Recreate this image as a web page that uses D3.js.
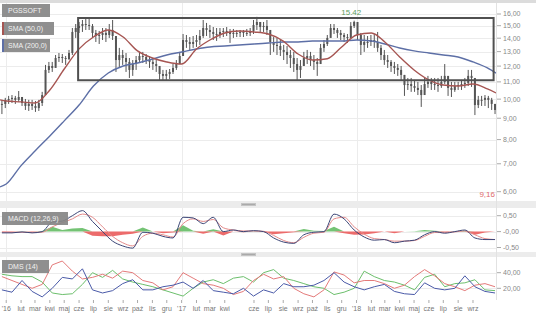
<!DOCTYPE html>
<html>
<head>
<meta charset="utf-8">
<script src="https://cdn.jsdelivr.net/npm/d3@7"></script>
<style>
body { margin: 0; background: #fff; }
svg { display: block; font-family: "Liberation Sans", Arial, sans-serif; }
</style>
</head>
<body>
<svg id="chart" width="536" height="317"></svg>
<script>
// weekly bars, first week centred on this date
const weekStart = "2015-12-23";
const weekHigh = [9.96,10.07,10.18,10.23,10.18,10.46,10.12,10.01,9.96,9.96,
  9.90,9.96,10.41,12.08,12.28,12.28,12.76,12.90,12.83,12.69,
  13.12,14.81,15.14,15.31,15.48,15.57,15.65,15.14,14.65,14.57,
  14.81,14.81,15.14,15.48,13.86,13.27,13.12,12.90,12.55,12.41,
  12.69,12.98,12.98,12.83,12.69,12.55,12.41,11.88,11.75,11.75,
  11.81,12.14,12.41,12.98,14.33,14.25,14.09,14.17,14.25,14.65,
  15.48,15.23,15.06,14.89,14.81,14.81,14.81,14.89,14.73,14.73,
  14.65,14.65,14.65,14.73,14.81,15.48,15.75,15.31,15.31,15.48,
  14.49,14.09,14.02,13.86,13.49,13.41,13.12,12.98,12.55,12.41,
  12.98,13.12,12.98,12.76,12.55,13.56,13.86,14.25,15.14,15.14,
  14.81,14.65,14.41,14.33,15.30,15.42,15.14,14.41,14.25,14.17,
  14.25,14.33,14.49,13.49,13.12,12.76,12.41,12.28,12.14,12.01,
  11.43,11.24,11.24,11.12,11.00,10.81,11.24,11.37,11.24,11.24,
  11.24,11.37,12.14,11.12,11.00,11.00,11.00,11.12,11.24,11.75,
  11.75,11.00,10.18,10.18,10.23,10.18,10.07,9.74];
const weekLow = [9.21,9.52,9.74,9.79,9.74,9.85,9.63,9.42,9.37,9.42,
  9.32,9.37,9.63,10.23,11.55,11.62,12.01,12.28,12.21,12.08,
  12.41,12.76,14.02,14.41,14.49,14.65,14.65,14.02,13.71,13.56,
  13.86,13.71,14.02,13.86,11.62,11.88,12.08,11.62,11.24,11.37,
  11.75,12.28,12.21,12.14,11.88,11.75,11.62,11.12,11.12,11.12,
  11.18,11.49,11.75,12.14,13.12,13.27,13.12,13.27,13.34,13.49,
  14.02,14.17,14.02,13.86,13.79,14.02,14.09,14.17,13.64,14.02,
  14.09,14.09,14.09,14.17,14.17,14.33,14.65,14.49,14.49,14.25,
  12.76,12.98,12.76,12.69,12.41,12.14,11.88,11.62,11.12,11.24,
  12.01,12.14,12.01,11.75,11.37,12.69,12.98,13.41,14.25,14.33,
  14.02,13.86,13.71,13.64,14.02,14.81,13.86,12.76,12.98,13.27,
  13.41,13.27,12.98,12.41,12.08,11.88,11.62,11.49,11.37,11.12,
  10.18,10.52,10.41,10.41,10.23,9.58,10.41,10.64,10.52,10.52,
  10.41,10.64,10.87,10.18,10.12,10.41,10.52,10.52,10.64,10.75,
  10.70,9.16,9.52,9.63,9.63,9.52,9.42,9.21];
const weekClose = [9.74,9.96,10.01,10.07,9.96,10.12,9.79,9.63,9.74,9.63,
  9.52,9.79,10.23,11.75,12.01,11.88,12.55,12.62,12.55,12.48,
  12.90,14.49,14.81,14.98,15.14,15.06,14.98,14.41,14.17,14.25,
  14.41,14.25,14.65,14.17,12.41,12.76,12.55,12.28,11.75,12.14,
  12.41,12.69,12.62,12.41,12.28,12.14,12.01,11.49,11.37,11.49,
  11.62,11.88,12.14,12.69,13.86,13.71,13.56,13.71,13.86,14.17,
  14.81,14.65,14.49,14.33,14.25,14.49,14.57,14.49,14.33,14.41,
  14.41,14.49,14.41,14.41,14.57,15.06,15.31,14.89,14.98,14.65,
  13.71,13.49,13.41,13.12,12.98,12.76,12.55,12.14,11.75,12.01,
  12.55,12.69,12.41,12.28,12.14,13.27,13.56,14.02,14.81,14.65,
  14.41,14.25,14.09,14.02,14.98,15.31,14.25,13.49,13.71,13.71,
  13.86,13.71,13.27,12.76,12.41,12.28,12.01,11.88,11.75,11.43,
  10.81,10.87,10.75,10.64,10.52,10.23,10.87,11.00,10.87,10.81,
  10.75,11.00,11.37,10.64,10.52,10.75,10.81,10.87,10.94,11.37,
  11.24,9.68,9.96,9.96,10.07,9.96,9.74,9.42];

// moving averages, read at month starts
const smaDates = ["2015-12-19","2016-01-01","2016-02-01","2016-03-01","2016-04-01","2016-05-01",
  "2016-06-01","2016-07-01","2016-08-01","2016-09-01","2016-10-01","2016-11-01","2016-12-01",
  "2017-01-01","2017-02-01","2017-03-01","2017-04-01","2017-05-01","2017-06-01","2017-07-01",
  "2017-08-01","2017-09-01","2017-10-01","2017-11-01","2017-12-01","2018-01-01","2018-02-01",
  "2018-03-01","2018-04-01","2018-05-01","2018-06-01","2018-07-01","2018-08-01","2018-09-01",
  "2018-10-01","2018-10-19"];
const sma50 = [9.96,9.90,9.85,9.79,10.52,11.81,13.20,14.09,14.65,14.09,13.05,12.55,12.28,
  12.14,13.19,13.86,14.41,14.57,14.49,14.33,13.78,12.83,12.41,12.50,13.34,14.25,14.41,
  13.71,12.62,11.75,11.12,10.81,10.75,10.87,10.58,10.35];
const sma200 = [6.16,6.26,6.93,7.51,8.16,8.87,9.68,10.75,11.55,12.01,12.21,12.48,12.76,
  12.97,13.19,13.34,13.41,13.48,13.56,13.63,13.71,13.71,13.78,13.78,13.78,13.86,13.78,
  13.56,13.26,13.05,12.90,12.76,12.62,12.28,11.88,11.55];

// indicators, one value every 3rd week
const indStep = 3;
const macdLine = [-0.04,-0.04,-0.01,-0.04,0.00,0.30,0.33,0.50,0.66,0.32,
  0.00,-0.30,-0.45,-0.52,-0.02,-0.05,-0.15,-0.20,0.45,0.43,
  0.25,0.45,0.00,0.05,0.00,0.03,0.00,-0.20,-0.33,-0.37,
  -0.10,-0.02,0.00,0.55,0.40,0.05,-0.17,-0.27,-0.25,-0.35,
  -0.30,-0.27,-0.10,0.00,-0.05,0.00,0.05,-0.20,-0.25,-0.25];
const macdSignal = [-0.02,-0.03,-0.02,-0.03,-0.02,0.15,0.28,0.40,0.55,0.45,
  0.15,-0.15,-0.35,-0.45,-0.15,-0.05,-0.10,-0.17,0.25,0.40,
  0.32,0.38,0.12,0.05,0.02,0.02,0.01,-0.12,-0.28,-0.35,
  -0.18,-0.05,-0.02,0.40,0.45,0.15,-0.08,-0.22,-0.25,-0.30,
  -0.30,-0.28,-0.15,-0.03,-0.03,-0.01,0.02,-0.10,-0.22,-0.25];
const dmsRed = [35,30,25,20,25,50,55,42,32,34,38,33,42,40,30,27,18,22,40,33,
  26,24,20,12,16,30,38,32,35,20,13,9,18,41,37,27,30,30,26,20,
  24,35,44,36,26,22,17,24,26,22];
const dmsGreen = [38,36,35,35,28,14,12,13,25,40,34,43,32,28,25,22,18,14,10,20,
  28,31,26,33,35,28,40,44,33,30,26,22,20,12,15,20,42,35,30,28,
  24,18,34,38,22,26,27,31,18,17];
const dmsBlue = [18,15,30,16,9,20,34,32,45,18,14,17,26,31,18,18,22,24,28,20,
  30,17,15,13,20,10,18,14,26,22,22,24,30,40,28,22,18,22,25,16,
  13,12,27,20,18,20,36,22,16,14];

// annotation box: dates and price bottom / top
const boxRange = {from: "2016-05-30", to: "2018-10-14", low: 11.1, high: 15.65};
const maxLabel = {date: "2017-12-21", value: 15.42, text: "15.42"};

const priceTicks = [6,7,8,9,10,11,12,13,14,15,16];
const macdTicks = [0.5, 0, -0.5];
const macdTickLabels = ["0,50", "-0,00", "-0,50"];
const dmsTicks = [40, 20];
const tickDates = ["2016-01-01","2016-02-01","2016-03-01","2016-04-01","2016-05-01","2016-06-01",
  "2016-07-01","2016-08-01","2016-09-01","2016-10-01","2016-11-01","2016-12-01",
  "2017-01-01","2017-02-01","2017-03-01","2017-04-01","2017-06-01","2017-07-01","2017-08-01",
  "2017-09-01","2017-10-01","2017-11-01","2017-12-01","2018-01-01","2018-02-01","2018-03-01",
  "2018-04-01","2018-05-01","2018-06-01","2018-07-01","2018-08-01","2018-09-01"];
const tickLabels = ["'16","lut","mar","kwi","maj","cze","lip","sie","wrz","paź","lis","gru",
  "'17","lut","mar","kwi","cze","lip","sie","wrz","paź","lis","gru",
  "'18","lut","mar","kwi","maj","cze","lip","sie","wrz"];

const parse = d3.timeParse("%Y-%m-%d");
const plotW = 496;
const main = {top: 3, bottom: 201};
const macdP = {top: 208, bottom: 252};
const dmsP = {top: 257, bottom: 300};

const svg = d3.select("#chart");

const x = d3.scaleTime()
    .domain([parse("2015-12-19"), parse("2018-10-19")])
    .range([0, plotW]);
const y = d3.scaleLog().domain([6, 16]).range([191.7, 14]);
const yMacd = d3.scaleLinear().domain([-0.5, 0.5]).range([247.5, 215.7]);
const yDms = d3.scaleLinear().domain([20, 40]).range([288.3, 272.7]);

const fmt = v => d3.format(".2f")(v).replace(".", ",");

// backgrounds
svg.append("rect").attr("width", 536).attr("height", 317).attr("fill", "#fff");
svg.append("rect").attr("x", 0).attr("y", 0).attr("width", 536).attr("height", main.top)
    .attr("fill", "#dcdcdc");
[[main.bottom, macdP.top], [macdP.bottom, dmsP.top]].forEach(s => {
    svg.append("rect").attr("x", 0).attr("y", s[0]).attr("width", 536).attr("height", s[1] - s[0])
        .attr("fill", "#ececec");
    const hy = (s[0] + s[1]) / 2;
    svg.append("rect").attr("x", 241).attr("y", hy - 1.5).attr("width", 15).attr("height", 3)
        .attr("fill", "#c4c4c4");
    svg.append("line").attr("x1", 242).attr("x2", 255).attr("y1", hy).attr("y2", hy)
        .attr("stroke", "#999").attr("stroke-width", 0.6);
});

// clip paths for the three panels
const defs = svg.append("defs");
[["clipMain", main], ["clipMacd", macdP], ["clipDms", dmsP]].forEach(c => {
    defs.append("clipPath").attr("id", c[0]).append("rect")
        .attr("x", 0).attr("y", c[1].top).attr("width", plotW).attr("height", c[1].bottom - c[1].top);
});

// grid
const grid = svg.append("g").attr("stroke", "#ececec").attr("stroke-width", 1);
priceTicks.forEach(t => grid.append("line").attr("x1", 0).attr("x2", plotW)
    .attr("y1", Math.round(y(t)) + 0.5).attr("y2", Math.round(y(t)) + 0.5));
macdTicks.forEach(t => grid.append("line").attr("x1", 0).attr("x2", plotW)
    .attr("y1", Math.round(yMacd(t)) + 0.5).attr("y2", Math.round(yMacd(t)) + 0.5));
dmsTicks.forEach(t => grid.append("line").attr("x1", 0).attr("x2", plotW)
    .attr("y1", Math.round(yDms(t)) + 0.5).attr("y2", Math.round(yDms(t)) + 0.5));
["2016-01-01", "2017-01-01", "2018-01-01"].forEach(d => {
    const xx = Math.round(x(parse(d))) + 0.5;
    [main, macdP, dmsP].forEach(p => grid.append("line").attr("x1", xx).attr("x2", xx)
        .attr("y1", p.top).attr("y2", p.bottom));
});
svg.append("line").attr("x1", plotW + 0.5).attr("x2", plotW + 0.5).attr("y1", main.top).attr("y2", dmsP.bottom)
    .attr("stroke", "#e2e2e2");

// candles
const weeks = weekClose.map((c, i) => ({
    date: d3.timeDay.offset(parse(weekStart), 7 * i),
    high: weekHigh[i], low: weekLow[i], close: c,
    open: i > 0 ? weekClose[i - 1] : c
}));
const candles = svg.append("g").attr("clip-path", "url(#clipMain)");
candles.selectAll("line").data(weeks).enter().append("line")
    .attr("x1", d => x(d.date)).attr("x2", d => x(d.date))
    .attr("y1", d => y(d.high)).attr("y2", d => y(d.low))
    .attr("stroke", "#555").attr("stroke-width", 1);
candles.selectAll("rect").data(weeks).enter().append("rect")
    .attr("x", d => x(d.date) - 1).attr("width", 2)
    .attr("y", d => y(Math.max(d.open, d.close)))
    .attr("height", d => Math.max(1, Math.abs(y(d.open) - y(d.close))))
    .attr("fill", "#555");

// moving averages
const smaPts = smaDates.map(parse);
const smaLine = d3.line().curve(d3.curveMonotoneX).x((d, i) => x(smaPts[i])).y(d => y(d));
const gMain = svg.append("g").attr("clip-path", "url(#clipMain)");
gMain.append("path").datum(sma200).attr("d", smaLine)
    .attr("fill", "none").attr("stroke", "#5d6fa6").attr("stroke-width", 1.4);
gMain.append("path").datum(sma50).attr("d", smaLine)
    .attr("fill", "none").attr("stroke", "#a65552").attr("stroke-width", 1.4);

// annotation rectangle
svg.append("rect")
    .attr("x", x(parse(boxRange.from))).attr("y", y(boxRange.high))
    .attr("width", x(parse(boxRange.to)) - x(parse(boxRange.from)))
    .attr("height", y(boxRange.low) - y(boxRange.high))
    .attr("fill", "none").attr("stroke", "#505050").attr("stroke-width", 2);

svg.append("text").attr("x", x(parse(maxLabel.date))).attr("y", y(maxLabel.value) - 6)
    .attr("text-anchor", "middle").attr("font-size", 8).attr("fill", "#5e9e5e")
    .text(maxLabel.text);
svg.append("text").attr("x", 495).attr("y", 197).attr("text-anchor", "end")
    .attr("font-size", 8).attr("fill", "#e06a6a").text(fmt(d3.min(weekLow)));

// MACD panel
const indDates = macdLine.map((d, i) => d3.timeDay.offset(parse(weekStart), 7 * indStep * i));
const hist = macdLine.map((d, i) => d - macdSignal[i]);
const gMacd = svg.append("g").attr("clip-path", "url(#clipMacd)");
const histArea = sign => d3.area().x((d, i) => x(indDates[i]))
    .y0(yMacd(0)).y1(d => yMacd(sign > 0 ? Math.max(0, d) : Math.min(0, d)));
gMacd.append("path").datum(hist).attr("d", histArea(1)).attr("fill", "#74c374");
gMacd.append("path").datum(hist).attr("d", histArea(-1)).attr("fill", "#ec6b6b");
const macdPath = d3.line().x((d, i) => x(indDates[i])).y(d => yMacd(d)).curve(d3.curveMonotoneX);
gMacd.append("path").datum(macdSignal).attr("d", macdPath)
    .attr("fill", "none").attr("stroke", "#e48a8a").attr("stroke-width", 1);
gMacd.append("path").datum(macdLine).attr("d", macdPath)
    .attr("fill", "none").attr("stroke", "#3c4677").attr("stroke-width", 1);

// DMS panel
const gDms = svg.append("g").attr("clip-path", "url(#clipDms)");
const dmsPath = d3.line().x((d, i) => x(indDates[i])).y(d => yDms(d));
[[dmsGreen, "#6cbf6c"], [dmsRed, "#e47a7a"], [dmsBlue, "#4a5aa8"]].forEach(s => {
    gDms.append("path").datum(s[0]).attr("d", dmsPath)
        .attr("fill", "none").attr("stroke", s[1]).attr("stroke-width", 1);
});

// right axes
const axisG = svg.append("g").attr("font-size", 7).attr("fill", "#888");
function rightTicks(vals, scale, labels) {
    vals.forEach((v, i) => {
        const yy = scale(v);
        axisG.append("line").attr("x1", 497).attr("x2", 501).attr("y1", yy).attr("y2", yy)
            .attr("stroke", "#aaa");
        axisG.append("text").attr("x", 503).attr("y", yy).attr("dy", "0.35em")
            .text(labels ? labels[i] : fmt(v));
    });
}
rightTicks(priceTicks, y);
rightTicks(macdTicks, yMacd, macdTickLabels);
rightTicks(dmsTicks, yDms);

// bottom time axis
tickDates.forEach((d, i) => {
    const xx = x(parse(d));
    axisG.append("line").attr("x1", xx).attr("x2", xx).attr("y1", dmsP.bottom).attr("y2", dmsP.bottom + 3)
        .attr("stroke", "#aaa");
    axisG.append("text").attr("x", xx).attr("y", 311).attr("text-anchor", "middle")
        .attr("fill", "#777").text(tickLabels[i]);
});

// legend boxes
const legends = [
    {text: "PGSSOFT", x: 2, y: 4, w: 48, color: null},
    {text: "SMA (50,0)", x: 2, y: 22, w: 52, color: "#a65552"},
    {text: "SMA (200,0)", x: 2, y: 39, w: 48, color: "#5d6fa6"},
    {text: "MACD (12,26,9)", x: 2, y: 212, w: 66, color: null},
    {text: "DMS (14)", x: 2, y: 260, w: 47, color: null}
];
legends.forEach(l => {
    svg.append("rect").attr("x", l.x).attr("y", l.y).attr("width", l.w).attr("height", 13)
        .attr("fill", "#858585").attr("opacity", 0.92);
    if (l.color) {
        svg.append("rect").attr("x", l.x).attr("y", l.y).attr("width", 2).attr("height", 13)
            .attr("fill", l.color);
    }
    svg.append("text").attr("x", l.x + 6).attr("y", l.y + 9).attr("font-size", 7)
        .attr("fill", "#f2f2f2").text(l.text);
});
</script>
</body>
</html>
